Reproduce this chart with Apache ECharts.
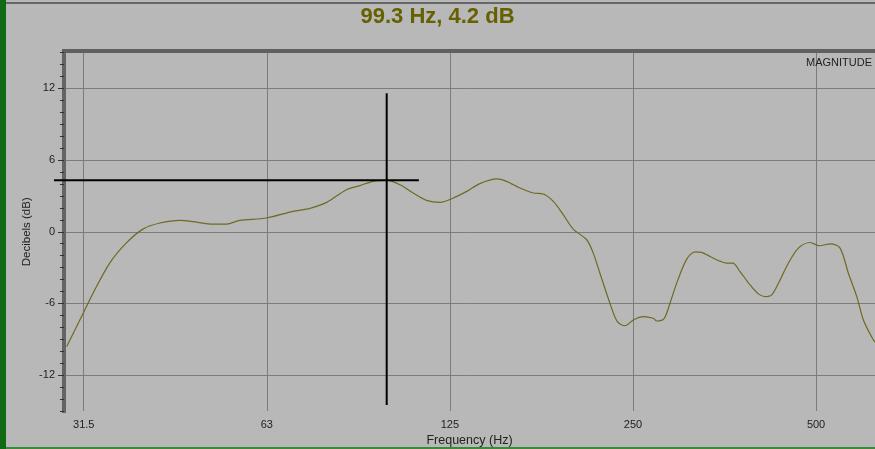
<!DOCTYPE html>
<html><head><meta charset="utf-8">
<script src="https://cdn.jsdelivr.net/npm/echarts@6/dist/echarts.min.js"></script>
<style>html,body{margin:0;padding:0;background:#b8b8b8;overflow:hidden}#c{width:875px;height:449px}</style>
</head><body><div id="c"></div><script>
// Frequency response
const freqHz = [29.3,31.2,32.4,34.5,36.7,39.1,41.7,45.0,47.3,50.4,
  53.7,56.4,62.4,69.0,73.6,78.4,84.5,88.9,93.5,98.4,
  103.5,108.8,114.4,120.4,126.6,133.2,140.0,149.2,154.9,163.0,
  171.4,178.0,184.9,192.0,199.4,209.8,215.1,220.6,229.1,235.6,
  242.6,250.3,260.0,270.0,273.5,281.2,287.6,295.0,306.4,316.2,
  324.3,334.7,347.6,356.5,364.7,374.9,389.4,401.9,412.2,422.8,
  436.3,450.2,467.6,488.8,506.3,528.6,547.6,565.1,583.4,598.1,
  621.2,627.6];
const magnitudeDb = [-9.6,-6.8,-5.1,-2.6,-0.95,0.22,0.73,0.95,0.84,0.64,
  0.64,0.95,1.15,1.71,1.96,2.46,3.52,3.86,4.22,4.30,
  3.94,3.24,2.63,2.46,2.82,3.38,4.03,4.42,4.22,3.66,
  3.24,3.16,2.54,1.43,0.22,-0.67,-1.79,-3.47,-5.98,-7.52,
  -7.86,-7.38,-7.10,-7.24,-7.47,-7.27,-5.98,-4.30,-2.29,-1.68,
  -1.73,-2.07,-2.46,-2.63,-2.63,-3.33,-4.45,-5.2,-5.43,-5.29,
  -4.03,-2.63,-1.37,-0.90,-1.17,-1.01,-1.37,-3.47,-5.43,-7.38,
  -9.06,-9.3];
const xTickFreqs = [31.25, 62.5, 125, 250, 500];
const xTickLabels = ['31.5', '63', '125', '250', '500'];
const yTickValues = [-12, -6, 0, 6, 12];
const cursorTitle = '99.3 Hz, 4.2 dB';
const cursorVFreq = [98.4, 98.4];
const cursorVDb = [11.6, -14.5];
const cursorHFreq = [27.9, 111.1];
const cursorHDb = [4.3, 4.3];
const panelLabel = 'MAGNITUDE';

const chart = echarts.init(document.getElementById('c'));
const font = 'Liberation Sans, Arial, sans-serif';
function xLabel(v) {
  let best = 0, bd = Infinity;
  xTickFreqs.forEach((f, i) => { const d = Math.abs(Math.log(f) - Math.log(v)); if (d < bd) { bd = d; best = i; } });
  return xTickLabels[best];
}
const option = {
  animation: false,
  backgroundColor: '#b8b8b8',
  textStyle: { fontFamily: font },
  title: { text: cursorTitle, left: 'center', top: 1,
    textStyle: { fontSize: 22, fontWeight: 'bold', color: '#666000', fontFamily: font } },
  grid: [
    { left: 64, right: 0, top: 52.5, bottom: 38, outerBoundsMode: 'none', containLabel: false },
    { left: 54, right: 0, top: 52.5, bottom: 38, outerBoundsMode: 'none', containLabel: false }
  ],
  xAxis: [{
    type: 'log', logBase: 2, min: 29.0, max: 625, gridIndex: 0,
    name: 'Frequency (Hz)', nameLocation: 'middle', nameGap: 23, nameMoveOverlap: false,
    nameTextStyle: { fontSize: 12.5, color: '#222', fontFamily: font },
    axisLine: { show: false, onZero: false },
    axisTick: { show: false, customValues: xTickFreqs },
    axisLabel: { customValues: xTickFreqs, formatter: xLabel, fontSize: 11, color: '#222', margin: 8, fontFamily: font },
    splitLine: { show: true, lineStyle: { color: '#7c7c7c', width: 1 } },
    minorTick: { show: false }, minorSplitLine: { show: false }
  }, {
    type: 'value', position: 'top', min: 0, max: 1, offset: 1.5, gridIndex: 0,
    axisLine: { show: true, onZero: false, lineStyle: { color: '#606060', width: 4, cap: 'square' } },
    axisTick: { show: false }, axisLabel: { show: false }, splitLine: { show: false }
  }, {
    type: 'log', logBase: 2, min: cursorHFreq[0], max: 625, gridIndex: 1, show: false
  }],
  yAxis: [{
    type: 'value', min: -15, max: 15, gridIndex: 0,
    name: 'Decibels (dB)', nameLocation: 'middle', nameGap: 31, nameMoveOverlap: false,
    nameTextStyle: { fontSize: 11.5, color: '#222', fontFamily: font },
    axisLine: { show: true, onZero: false, lineStyle: { color: '#646464', width: 4, cap: 'square' } },
    axisTick: { show: true, length: 6, customValues: yTickValues, lineStyle: { color: '#333', width: 1 } },
    axisLabel: { customValues: yTickValues, fontSize: 11, color: '#222', margin: 9, fontFamily: font },
    splitLine: { show: true, lineStyle: { color: '#7c7c7c', width: 1 } }
  }, {
    type: 'value', min: -15, max: 15, interval: 1, position: 'left', gridIndex: 0,
    axisLine: { show: false, onZero: false },
    axisTick: { show: true, length: 4, lineStyle: { color: '#333', width: 1 } },
    axisLabel: { show: false }, splitLine: { show: false }
  }, {
    type: 'value', min: -15, max: 15, gridIndex: 1, show: false
  }],
  graphic: [
    { type: 'rect', left: 0, top: 0, shape: { width: 6, height: 449 }, style: { fill: '#116a14' }, z: 100 },
    { type: 'rect', left: 6, top: 2, shape: { width: 869, height: 2 }, style: { fill: '#666' }, z: 100 },
    { type: 'rect', left: 6, top: 447, shape: { width: 869, height: 2 }, style: { fill: '#3a8a3a' }, z: 100 },
    { type: 'text', right: 3, top: 57, style: { text: panelLabel, font: '11px ' + font, fill: '#222' }, z: 100 }
  ],
  series: [{
    type: 'line', xAxisIndex: 0, yAxisIndex: 0,
    data: freqHz.map((f, i) => [f, magnitudeDb[i]]),
    showSymbol: false, smooth: 0.3,
    lineStyle: { color: '#6e6a22', width: 1.2 }, z: 3
  }, {
    type: 'line', xAxisIndex: 0, yAxisIndex: 0, clip: false,
    data: cursorVFreq.map((f, i) => [f, cursorVDb[i]]),
    showSymbol: false, lineStyle: { color: '#000', width: 2 }, z: 5
  }, {
    type: 'line', xAxisIndex: 2, yAxisIndex: 2, clip: false,
    data: cursorHFreq.map((f, i) => [f, cursorHDb[i]]),
    showSymbol: false, lineStyle: { color: '#000', width: 2 }, z: 5
  }]
};
chart.setOption(option);
</script></body></html>
